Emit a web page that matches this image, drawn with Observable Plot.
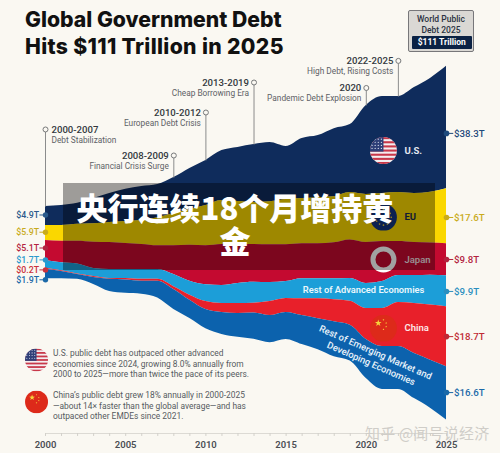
<!DOCTYPE html>
<html><head><meta charset="utf-8">
<script src="https://cdn.jsdelivr.net/npm/d3@7"></script>
<script src="https://cdn.jsdelivr.net/npm/@observablehq/plot@0.6"></script>
<style>
html,body{margin:0;padding:0;background:#faf8f2;}
#wrap{position:relative;width:500px;height:453px;overflow:hidden;font-family:Roboto,sans-serif;}
#wrap svg{position:absolute;left:0;top:0;}
.title{position:absolute;left:25px;top:6px;font:800 21.2px/26.5px Inter,sans-serif;color:#111;white-space:nowrap;letter-spacing:0;}
.title span{letter-spacing:.33px;}
.badge{position:absolute;left:408px;top:10px;width:66px;height:42px;box-sizing:border-box;background:#dad8d4;border:1.5px solid #77777a;border-radius:2px;text-align:center;font:500 8.5px/10.5px Roboto,sans-serif;color:#2a3242;padding-top:3px;}
.badge b{position:absolute;left:3px;right:1.5px;top:25px;height:13px;background:#0b2244;color:#fff;font:700 8.5px/13px Roboto,sans-serif;border-radius:1px;}
.note{position:absolute;left:53px;font:400 9.4px/10.6px Roboto,sans-serif;color:#555a60;white-space:nowrap;transform:scaleX(.895);transform-origin:left top;}
.banner{position:absolute;left:63px;top:183px;width:372px;height:87px;background:rgba(0,0,0,.37);box-sizing:border-box;padding-right:28px;text-align:center;color:#fff;font:900 31px/33px "Noto Sans CJK SC",sans-serif;padding-top:7px;}
.mark{position:absolute;left:365px;top:424px;font:400 15px/18px "Noto Sans CJK SC",sans-serif;color:#cfcdc8;letter-spacing:.2px;white-space:nowrap;}
</style></head>
<body><div id="wrap"></div>
<script>
const years = d3.range(2000, 2026);
const names = ["U.S.","EU","Japan","Rest of Advanced Economies","China","Rest of Emerging Market and Developing Economies"];
const colors = ["#0f2c5c","#fad700","#c40a30","#1c9ed8","#e8202a","#0c62ad"];
const topEdge = [11.4,11.7,12.4,13.9,15.5,16.8,17.7,18.3,20.5,23.4,25.9,29.0,30.0,30.9,31.5,30.3,32.8,33.7,35.9,37.2,43.2,46.0,46.0,48.8,51.7,55.5];
const usDebt = [6.0,6.3,6.6,7.9,9.1,10.1,10.7,10.4,11.3,12.9,14.2,15.7,17.0,18.2,18.6,16.7,18.9,19.5,21.4,21.4,28.0,30.5,30.2,33.3,35.8,38.5];
const euDebt = [4.7,4.9,5.3,5.8,6.3,6.9,7.5,8.8,10.1,11.3,12.6,13.8,13.5,13.2,13.5,14.2,14.2,14.5,14.5,14.9,15.1,15.1,15.4,15.4,16.0,17.3];
const jpDebt = [6.3,6.8,7.2,8.3,8.5,8.2,7.9,7.5,9.1,11.3,12.3,12.9,12.3,11.9,11.9,11.6,11.0,11.0,11.3,12.1,12.9,12.6,10.7,10.4,10.1,10.1];
const advDebt = [2.4,2.5,3.1,2.5,2.8,2.8,3.1,3.1,3.8,4.4,5.3,5.7,6.3,6.6,6.0,5.3,6.3,6.3,6.6,7.2,7.9,8.5,8.5,8.8,9.4,9.7];
const cnDebt = [0.3,0.2,0.2,0.3,0.3,0.5,0.6,0.6,0.9,1.6,2.5,2.8,3.1,3.1,4.4,4.4,5.3,6.3,6.9,7.5,9.7,11.9,13.8,15.7,17.3,18.9];
const emDebt = [3.0,2.3,1.5,2.2,3.8,4.2,4.1,5.3,6.3,5.7,6.0,6.9,7.5,8.2,8.5,8.5,9.1,9.7,11.0,11.3,12.3,13.5,13.5,14.2,15.1,16.7];
const seriesValues = [usDebt,euDebt,jpDebt,advDebt,cnDebt,emDebt];

const leftLabels = ["$4.9T","$5.9T","$5.1T","$1.7T","$0.2T","$1.9T"];
const leftY = [8.74,3.33,-1.64,-5.38,-8.52,-11.64];
const leftColors = ["#2b5a8c","#c9ab1c","#b3233f","#2a98cc","#c9323c","#1b69a8"];
const rightLabels = ["$38.3T","$17.6T","$9.8T","$9.9T","$18.7T","$16.6T"];
const rightY = [34.4,7.96,-5.25,-15.3,-29.5,-47.1];
const rightColors = ["#1f4a7c","#c9ab1c","#b3233f","#2a8fc0","#c02a35","#1b69a8"];

const eraYear = [2000,2008,2010,2013,2020,2022];
const eraDate = ["2000-2007","2008-2009","2010-2012","2013-2019","2020","2022-2025"];
const eraName = ["Debt Stabilization","Financial Crisis Surge","European Debt Crisis","Cheap Borrowing Era","Pandemic Debt Explosion","High Debt, Rising Costs"];
const eraTop = [35.63,27.45,40.97,50.4,48.68,57.2];
const eraBase = [11.4,20.5,25.9,30.9,43.2,46.0];

const flagSvg = inner => "data:image/svg+xml;utf8," + encodeURIComponent(`<svg xmlns="http://www.w3.org/2000/svg" viewBox="0 0 26 26">${inner}</svg>`);
const stripes = d3.range(0,13,2).map(i=>`<rect x="0" y="${i*2}" width="26" height="2" fill="#c8384a"/>`).join("");
const usFlag = flagSvg(`<rect width="26" height="26" fill="#f4eef0"/>${stripes}<rect width="13" height="14" fill="#2f3f78"/><g fill="#dfe3ef">${d3.range(2,13,3).flatMap(x=>d3.range(2,14,3).map(y=>`<circle cx="${x}" cy="${y}" r=".6"/>`)).join("")}</g>`);
const star = (x,y,r,rot=0)=>{const p=d3.range(10).map(i=>{const a=i*Math.PI/5-Math.PI/2+rot,q=i%2?r*.4:r;return (x+q*Math.cos(a)).toFixed(2)+","+(y+q*Math.sin(a)).toFixed(2)}).join(" ");return `<polygon points="${p}" fill="#f6d33c"/>`};
const cnFlag = flagSvg(`<rect width="26" height="26" fill="#dd2a1a"/>${star(8,8,3.4)}${star(13,4.8,1)}${star(15.6,8,1)}${star(15.6,11.4,1)}${star(13,14,1)}`);
const euFlag = flagSvg(`<rect width="26" height="26" fill="#12357f"/>${d3.range(12).map(i=>{const a=i*Math.PI/6;return `<circle cx="${13+7.5*Math.cos(a)}" cy="${13+7.5*Math.sin(a)}" r=".8" fill="#f3d23a"/>`}).join("")}`);

const flagYear = 2021.07;
const bigFlags = [
  {src:usFlag,x:flagYear,y:29.0},
  {src:euFlag,x:flagYear,y:8.0},
  {src:cnFlag,x:flagYear,y:-26.9}
];
const noteFlags = [
  {src:usFlag,x:1999.44,y:-36.85},
  {src:cnFlag,x:1999.44,y:-50.06}
];

const rows = [];
years.forEach((year,i)=>{
  let edge = topEdge[i];
  seriesValues.forEach((vals,s)=>{
    rows.push({year,series:names[s],y2:edge,y1:edge-vals[i]});
    edge -= vals[i];
  });
});
const idx = d3.range(6);
const era = d3.range(6);
const textDark = "#33383e", subGrey = "#5d6166";

const plot = Plot.plot({
  width:500,height:453,marginLeft:45,marginRight:54,marginTop:0,marginBottom:20,
  style:{background:"transparent",fontFamily:"Roboto,sans-serif"},
  x:{domain:[2000,2025],axis:null},
  y:{domain:[-59.97,76.19],axis:null},
  color:{domain:names,range:colors},
  marks:[
    Plot.ruleY([-59.97],{x1:()=>2000,x2:()=>2025,stroke:"#dcdad4",strokeWidth:1}),
    Plot.ruleX(years,{x:d=>d,y1:()=>-59.97,y2:()=>-60.9,stroke:"#d2d0ca",strokeWidth:1}),
    Plot.axisX({ticks:d3.range(2000,2026,5),tickSize:0,tickPadding:7.5,tickFormat:d=>String(d),fontSize:9.5,fontWeight:600,fill:"#4a4e54",anchor:"bottom"}),
    Plot.areaY(rows,{x:"year",y1:"y1",y2:"y2",fill:"series",curve:"monotone-x"}),
    Plot.link(era,{x1:i=>eraYear[i],x2:i=>eraYear[i],y1:i=>eraTop[i],y2:i=>eraBase[i],stroke:"#8b8c8c",strokeWidth:1}),
    Plot.dot(era,{x:i=>eraYear[i],y:i=>eraTop[i],r:2.5,fill:"#faf8f2",stroke:"#77797a",strokeWidth:1}),
    Plot.text(era.slice(0,1),{x:i=>eraYear[i],y:i=>eraTop[i],text:i=>eraDate[i],dx:6,textAnchor:"start",fontSize:9.6,fontWeight:500,fill:textDark}),
    Plot.text(era.slice(0,1),{x:i=>eraYear[i],y:i=>eraTop[i],text:i=>eraName[i],dx:6,dy:11,textAnchor:"start",fontSize:8.3,fill:subGrey}),
    Plot.text(era.slice(1),{x:i=>eraYear[i],y:i=>eraTop[i],text:i=>eraDate[i],dx:-5,textAnchor:"end",fontSize:9.6,fontWeight:500,fill:textDark}),
    Plot.text(era.slice(1),{x:i=>eraYear[i],y:i=>eraTop[i],text:i=>eraName[i],dx:-5,dy:10.5,textAnchor:"end",fontSize:8.3,fill:subGrey}),
    Plot.image(bigFlags,{x:"x",y:"y",src:"src",width:27,height:27,r:13.5}),
    Plot.image(noteFlags,{x:"x",y:"y",src:"src",width:23,height:23,r:11.5}),
    Plot.dot([0],{x:()=>flagYear,y:()=>-5.25,r:10.5,fill:"#c40a30",stroke:"#fff",strokeWidth:5}),
    Plot.text(["U.S."],{x:()=>flagYear,y:()=>29,text:d=>d,dx:21,textAnchor:"start",fontSize:9.5,fontWeight:700,fill:"#e4e8f0"}),
    Plot.text(["EU"],{x:()=>flagYear,y:()=>8,text:d=>d,dx:21,textAnchor:"start",fontSize:9.5,fontWeight:700,fill:"#1a2c55"}),
    Plot.text(["Japan"],{x:()=>flagYear,y:()=>-5.25,text:d=>d,dx:21,textAnchor:"start",fontSize:9.5,fontWeight:500,fill:"#f2e6ea"}),
    Plot.text(["China"],{x:()=>flagYear,y:()=>-26.9,text:d=>d,dx:21,textAnchor:"start",fontSize:9.5,fontWeight:600,fill:"#fde8e8"}),
    Plot.text(["Rest of Advanced Economies"],{x:()=>2019.83,y:()=>-15,text:d=>d,fontSize:9.3,fontWeight:600,fill:"#eaf7fc"}),
    Plot.text(["Rest of Emerging Market and"],{x:()=>2020.57,y:()=>-34.5,text:d=>d,rotate:23.7,fontSize:9.4,fontWeight:500,fill:"#e8f2fa"}),
    Plot.text(["Developing Economies"],{x:()=>2020.3,y:()=>-38,text:d=>d,rotate:23.7,fontSize:9.4,fontWeight:500,fill:"#e8f2fa"}),
    Plot.link(idx,{x1:()=>2000,x2:()=>1999.62,y1:i=>leftY[i],y2:i=>leftY[i],stroke:i=>leftColors[i],strokeWidth:1}),
    Plot.dot(idx,{x:()=>2000,y:i=>leftY[i],r:2.7,fill:i=>leftColors[i]}),
    Plot.text(idx,{x:()=>2000,y:i=>leftY[i],text:i=>leftLabels[i],dx:-6.5,textAnchor:"end",fontSize:8.8,fontWeight:500,fill:i=>leftColors[i]}),
    Plot.link(idx,{x1:()=>2025,x2:()=>2025.42,y1:i=>rightY[i],y2:i=>rightY[i],stroke:i=>rightColors[i],strokeWidth:1}),
    Plot.dot(idx,{x:()=>2025,y:i=>rightY[i],r:2.8,fill:i=>rightColors[i]}),
    Plot.text(idx,{x:()=>2025,y:i=>rightY[i],text:i=>rightLabels[i],dx:7.5,textAnchor:"start",fontSize:9.7,fontWeight:500,fill:i=>rightColors[i]})
  ]
});
const wrap = document.getElementById("wrap");
wrap.appendChild(plot);
wrap.insertAdjacentHTML("beforeend",`
<div class="title">Global Government Debt<br><span>Hits $111 Trillion in 2025</span></div>
<div class="badge">World Public<br>Debt 2025<b>$111 Trillion</b></div>
<div class="note" style="top:348px">U.S. public debt has outpaced other advanced<br>economies since 2024, growing 8.0% annually from<br>2000 to 2025—more than twice the pace of its peers.</div>
<div class="note" style="top:390px">China’s public debt grew 18% annually in 2000-2025<br>—about 14× faster than the global average—and has<br>outpaced other EMDEs since 2021.</div>
<div class="banner">央行连续18个月增持黄<br>金</div>
<div class="mark">知乎 @闻号说经济</div>`);
</script>
</body></html>
